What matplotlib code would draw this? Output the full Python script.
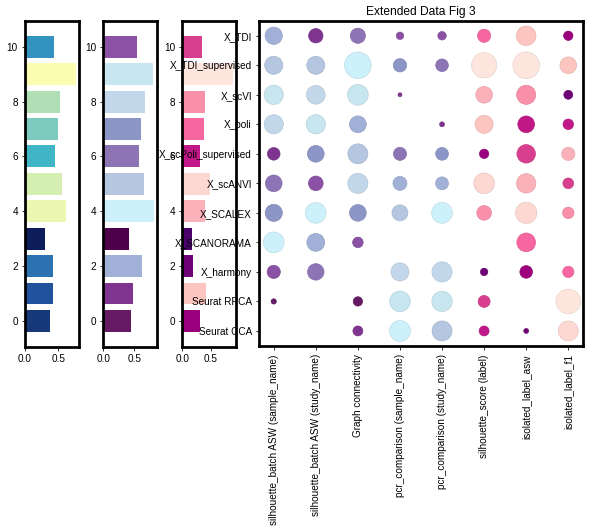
import numpy as np
import matplotlib
matplotlib.use("Agg")
import matplotlib.pyplot as plt
from matplotlib.colors import to_rgb

plt.rcParams['font.family'] = ['Liberation Sans', 'DejaVu Sans']
plt.rcParams['font.size'] = 10

# methods, bottom (0) to top (10)
methods = ['Seurat CCA', 'Seurat RPCA', 'X_harmony', 'X_SCANORAMA', 'X_SCALEX',
           'X_scANVI', 'X_scPoli_supervised', 'X_poli', 'X_scVI',
           'X_TDI_supervised', 'X_TDI']

metrics = ['silhouette_batch ASW (sample_name)', 'silhouette_batch ASW (study_name)',
           'Graph connectivity', 'pcr_comparison (sample_name)',
           'pcr_comparison (study_name)', 'silhouette_score (label)',
           'isolated_label_asw', 'isolated_label_f1']

# summary scores per method (bar panels)
total_score = [0.375, 0.42, 0.425, 0.30, 0.615, 0.555, 0.45, 0.495, 0.525, 0.77, 0.435]
batch_score = [0.44, 0.47, 0.615, 0.405, 0.82, 0.655, 0.58, 0.605, 0.665, 0.80, 0.54]
bio_score = [0.305, 0.42, 0.185, 0.167, 0.40, 0.49, 0.31, 0.38, 0.395, 0.89, 0.345]

# metric values, one list per metric, rows in methods order
sil_batch_sample = [0.0, 0.035, 0.22, 0.54, 0.37, 0.35, 0.20, 0.46, 0.47, 0.41, 0.375]
sil_batch_study = [0.0, 0.0, 0.34, 0.40, 0.54, 0.27, 0.35, 0.47, 0.44, 0.41, 0.26]
graph_conn = [0.125, 0.11, 0.0, 0.14, 0.35, 0.51, 0.50, 0.355, 0.54, 0.89, 0.29]
pcr_sample = [0.545, 0.535, 0.41, 0.0, 0.32, 0.245, 0.215, 0.0, 0.02, 0.225, 0.07]
pcr_study = [0.50, 0.52, 0.51, 0.0, 0.54, 0.21, 0.205, 0.03, 0.0, 0.20, 0.09]
sil_label = [0.125, 0.18, 0.07, 0.0, 0.27, 0.54, 0.11, 0.41, 0.35, 0.80, 0.22]
iso_asw = [0.03, 0.0, 0.20, 0.44, 0.57, 0.47, 0.43, 0.35, 0.46, 0.89, 0.48]
iso_f1 = [0.50, 0.76, 0.16, 0.0, 0.165, 0.145, 0.22, 0.14, 0.10, 0.35, 0.11]

metric_values = [sil_batch_sample, sil_batch_study, graph_conn, pcr_sample,
                 pcr_study, sil_label, iso_asw, iso_f1]

# palettes, lightest (best rank) to darkest
pal_total = ['#fcfdb0', '#ecf8b2', '#d5eeb2', '#b0dfb5', '#7ccbbe', '#40b5c6',
             '#3393c0', '#2c72b0', '#21529c', '#17397a', '#0d1d5c']
pal_batch = ['#cdf1fa', '#c8e6f0', '#c2d8ea', '#b5c6e0', '#a0b0d6', '#8c96c6',
             '#8c74b5', '#8a51a5', '#7f3590', '#661a63', '#4d0049']
pal_bio = ['#fee6de', '#fdd8d2', '#fcc5c0', '#fbb1b9', '#f98fa8', '#f766a0',
           '#d83f8f', '#c01887', '#9c017d', '#6f0177', '#4b006b']


def rank_colors(vals, pal):
    order = np.argsort(-np.asarray(vals), kind='stable')
    cols = [None] * len(vals)
    for r, i in enumerate(order):
        cols[i] = pal[r]
    return cols


W, H = 590, 532
fig = plt.figure(figsize=(W / 72, H / 72), dpi=72)


def px_axes(x0, x1, y0, y1):
    return fig.add_axes([x0 / W, 1 - y1 / H, (x1 - x0) / W, (y1 - y0) / H])


ypos = np.arange(len(methods))
bar_axes = [px_axes(25, 78.7, 21, 346.7),
            px_axes(103.3, 157, 21, 346.7),
            px_axes(182.3, 236, 21, 346.7)]
for ax, vals, pal in zip(bar_axes, [total_score, batch_score, bio_score],
                         [pal_total, pal_batch, pal_bio]):
    ax.barh(ypos, vals, color=rank_colors(vals, pal))
    ax.set_xticks([0, 0.5])
    for s in ax.spines.values():
        s.set_linewidth(2.75)

ax = px_axes(259, 583, 21, 345.7)
for j, vals in enumerate(metric_values):
    pal = pal_batch if j < 5 else pal_bio
    cols = rank_colors(vals, pal)
    edges = [tuple(c * 0.9 for c in to_rgb(col)) for col in cols]
    ax.scatter(np.full(len(vals), j), ypos, s=np.asarray(vals) * 800,
               c=cols, edgecolors=edges, linewidths=0.6)
ax.set_xticks(range(len(metrics)))
ax.set_xticklabels(metrics, rotation=90)
ax.tick_params(axis='x', pad=5)
ax.set_yticks(ypos)
ax.set_yticklabels(methods)
ax.set_title('Extended Data Fig 3', fontsize=12)
for s in ax.spines.values():
    s.set_linewidth(2.75)

fig.savefig('out.png', dpi=72)
